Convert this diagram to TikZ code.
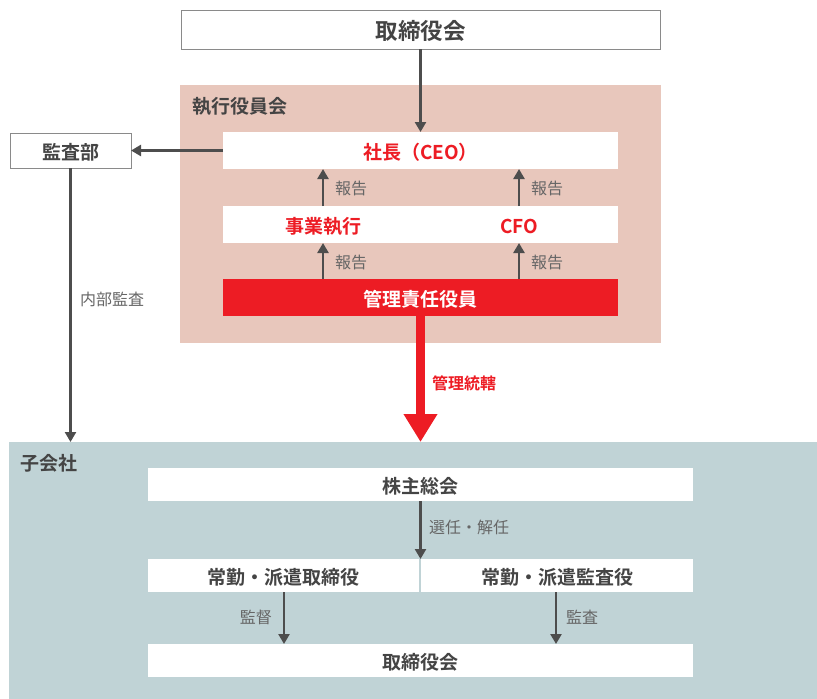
\documentclass[tikz,border=0pt]{standalone}
\usepackage{fontspec}
\setmainfont{Noto Sans CJK JP}[BoldFont={Noto Sans CJK JP Bold}]
\usetikzlibrary{arrows.meta}
\definecolor{pinkbg}{HTML}{E8C7BC}
\definecolor{bluebg}{HTML}{C0D3D6}
\definecolor{redc}{HTML}{ED1C24}
\definecolor{darkt}{HTML}{444444}
\definecolor{labelt}{HTML}{666666}
\definecolor{arrowc}{HTML}{4D4D4D}
\definecolor{borderc}{HTML}{8A8A8A}
\tikzset{
  box/.style={rectangle, inner sep=0pt, outer sep=0pt, text=darkt,
    font=\fontsize{19}{23}\selectfont\bfseries, text height=18pt, text depth=1pt},
  whitebox/.style={box, fill=white},
  framebox/.style={box, fill=white, draw=borderc, line width=1pt},
  region/.style={rectangle, inner sep=0pt, outer sep=0pt},
  grouptitle/.style={inner sep=0pt, anchor=west, text=darkt,
    font=\fontsize{19}{23}\selectfont\bfseries},
  lbl/.style={text=labelt, font=\fontsize{16}{20}\selectfont, inner sep=0pt, anchor=west},
  arr/.style={draw=arrowc, line width=2.6pt, -{Triangle[width=11pt,length=10pt]}},
  bigarr/.style={draw=redc, line width=9pt, -{Triangle[width=32pt,length=28pt]}},
}
\begin{document}
\begin{tikzpicture}[x=1pt,y=-1pt]
\useasboundingbox (0,0) rectangle (817,699);
% regions
\node[region, fill=pinkbg, minimum width=481pt, minimum height=258pt] (execbg) at (420.5,214) {};
\node[region, fill=bluebg, minimum width=808pt, minimum height=257pt] (subbg) at (413,570.5) {};
\node[grouptitle] (exectitle) at (192,106) {執行役員会};
\node[grouptitle] (subtitle) at (20,463) {子会社};
% top
\node[framebox, minimum width=479pt, minimum height=39pt, font=\fontsize{22.5}{26}\selectfont\bfseries, text height=21pt, text depth=1pt] (board) at (420.5,29.5) {取締役会};
\node[framebox, minimum width=121pt, minimum height=35pt] (audit) at (70.5,150.5) {監査部};
% exec
\node[whitebox, minimum width=395pt, minimum height=37pt, text=redc] (ceo) at (420.5,150.5) {社長（CEO）};
\node[whitebox, minimum width=395pt, minimum height=37pt] (row) at (420.5,224.5) {};
\node[box, text=redc] (jigyo) at (323,224.5) {事業執行};
\node[box, text=redc] (cfo) at (519,224.5) {CFO};
\node[box, fill=redc, text=white, minimum width=395pt, minimum height=37pt] (mgr) at (420.5,297.5) {管理責任役員};
% subsidiary
\node[whitebox, minimum width=545pt, minimum height=33pt] (agm) at (420.5,484.5) {株主総会};
\node[whitebox, minimum width=271pt, minimum height=33pt] (dir) at (283.5,575.5) {常勤・派遣取締役};
\node[whitebox, minimum width=272pt, minimum height=33pt] (aud2) at (557,575.5) {常勤・派遣監査役};
\node[whitebox, minimum width=545pt, minimum height=33pt] (board2) at (420.5,660.5) {取締役会};
% arrows
\draw[arr] (board.south) -- (ceo.north);
\draw[arr] (ceo.west) -- (audit.east);
\draw[arr] (audit.south) -- (audit.south |- subbg.north);
\node[lbl] (naibu) at (80,299) {内部監査};
\draw[arr] (jigyo |- row.north) -- (jigyo |- ceo.south);
\draw[arr] (cfo |- row.north) -- (cfo |- ceo.south);
\draw[arr] (jigyo |- mgr.north) -- (jigyo |- row.south);
\draw[arr] (cfo |- mgr.north) -- (cfo |- row.south);
\node[lbl] (rep1) at (335,188) {報告};
\node[lbl] (rep2) at (531,188) {報告};
\node[lbl] (rep3) at (335,262) {報告};
\node[lbl] (rep4) at (531,262) {報告};
\draw[bigarr] (mgr.south) -- (mgr.south |- subbg.north);
\node[lbl, text=redc, font=\fontsize{16}{20}\selectfont\bfseries] (kanri) at (432,383) {管理統轄};
\draw[arr] (agm.south) -- (agm.south |- dir.north);
\node[lbl] (senin) at (429,527) {選任・解任};
\coordinate (dx) at (284,0);
\coordinate (ax) at (556,0);
\draw[arr] (dx |- dir.south) -- (dx |- board2.north);
\draw[arr] (ax |- aud2.south) -- (ax |- board2.north);
\node[lbl, anchor=east] (kantoku) at (272,617) {監督};
\node[lbl] (kansa) at (566,617) {監査};
\end{tikzpicture}
\end{document}
